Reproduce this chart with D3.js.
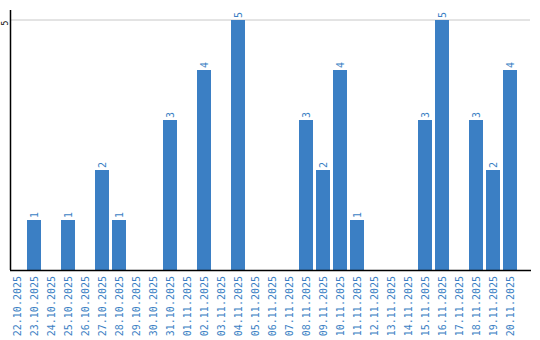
<!DOCTYPE html>
<html>
<head>
<meta charset="utf-8">
<script src="https://cdn.jsdelivr.net/npm/d3@7"></script>
<style>
  body { margin: 0; background: #fff; }
  svg text { font-family: "DejaVu Sans Mono", "Liberation Mono", monospace; }
</style>
</head>
<body>
<svg id="chart"></svg>
<script>
// days shown on the x axis
const dates = [
  "22.10.2025", "23.10.2025", "24.10.2025", "25.10.2025", "26.10.2025",
  "27.10.2025", "28.10.2025", "29.10.2025", "30.10.2025", "31.10.2025",
  "01.11.2025", "02.11.2025", "03.11.2025", "04.11.2025", "05.11.2025",
  "06.11.2025", "07.11.2025", "08.11.2025", "09.11.2025", "10.11.2025",
  "11.11.2025", "12.11.2025", "13.11.2025", "14.11.2025", "15.11.2025",
  "16.11.2025", "17.11.2025", "18.11.2025", "19.11.2025", "20.11.2025",
];
const counts = [
  0, 1, 0, 1, 0,
  2, 1, 0, 0, 3,
  0, 4, 0, 5, 0,
  0, 0, 3, 2, 4,
  1, 0, 0, 0, 3,
  5, 0, 3, 2, 4,
];
const yTicks = [5];

const width = 540, height = 340;
const blue = "#3b7fc4";

const svg = d3.select("#chart").attr("width", width).attr("height", height);

const x = d3.scaleBand()
  .domain(dates)
  .range([10, 517])
  .paddingInner(3 / 17)
  .paddingOuter(0);

const y = d3.scaleLinear().domain([0, 5]).range([270, 20]);

// gridline at top
svg.selectAll(".grid")
  .data(yTicks)
  .join("line")
  .attr("class", "grid")
  .attr("x1", 11).attr("x2", 530)
  .attr("y1", (d) => y(d)).attr("y2", (d) => y(d))
  .attr("stroke", "#c8c8c8")
  .attr("stroke-width", 1);

// y tick labels (rotated)
svg.selectAll(".ytick")
  .data(yTicks)
  .join("text")
  .attr("class", "ytick")
  .attr("transform", (d) => `translate(7.5,${y(d) + 3}) rotate(-90)`)
  .attr("text-anchor", "middle")
  .style("font-size", "8px")
  .attr("fill", "#000")
  .text((d) => d);

// bars
const data = dates.map((d, i) => ({ date: d, value: counts[i] }));

svg.selectAll(".bar")
  .data(data.filter((d) => d.value > 0))
  .join("rect")
  .attr("class", "bar")
  .attr("x", (d) => x(d.date))
  .attr("width", x.bandwidth())
  .attr("y", (d) => y(d.value))
  .attr("height", (d) => y(0) - y(d.value))
  .attr("fill", blue);

// value labels
svg.selectAll(".val")
  .data(data.filter((d) => d.value > 0))
  .join("text")
  .attr("class", "val")
  .attr("transform", (d) =>
    `translate(${x(d.date) + x.bandwidth() / 2 + 3.5},${y(d.value) - 2}) rotate(-90)`)
  .attr("text-anchor", "start")
  .style("font-size", "10px")
  .attr("fill", blue)
  .text((d) => d.value);

// axes lines
svg.append("line")
  .attr("x1", 10.5).attr("x2", 10.5)
  .attr("y1", 10).attr("y2", 270)
  .attr("stroke", "#000").attr("stroke-width", 1.5);
svg.append("line")
  .attr("x1", 10).attr("x2", 531)
  .attr("y1", 270.5).attr("y2", 270.5)
  .attr("stroke", "#000").attr("stroke-width", 1.5);

// x labels
svg.selectAll(".xlab")
  .data(dates)
  .join("text")
  .attr("class", "xlab")
  .attr("transform", (d) =>
    `translate(${x(d) + x.bandwidth() / 2 + 4},276) rotate(-90)`)
  .attr("text-anchor", "end")
  .style("font-size", "10px")
  .attr("fill", blue)
  .text((d) => d);
</script>
</body>
</html>
